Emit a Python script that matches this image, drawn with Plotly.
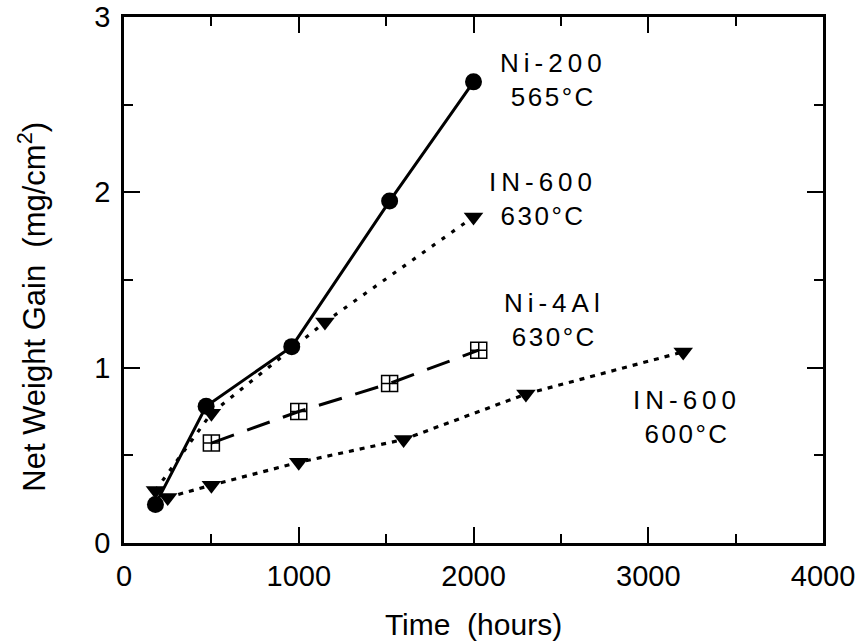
import plotly.graph_objects as go

# ---- data ----
ni200_t = [180, 470, 960, 1520, 2000]
ni200_w = [0.22, 0.78, 1.12, 1.95, 2.63]

in600_630_t = [180, 500, 1150, 2000]
in600_630_w = [0.30, 0.74, 1.26, 1.86]

ni4al_t = [500, 1000, 1520, 2030]
ni4al_w = [0.57, 0.75, 0.91, 1.10]

in600_600_t = [250, 500, 1000, 1600, 2300, 3200]
in600_600_w = [0.26, 0.33, 0.46, 0.59, 0.85, 1.09]

label_text = ["Ni-200<br>565°C", "IN-600<br>630°C", "Ni-4Al<br>630°C", "IN-600<br>600°C"]
label_x = [2458, 2398, 2464, 3224]
label_y = [2.64, 1.96, 1.27, 0.72]

x_ticks = [0, 1000, 2000, 3000, 4000]
y_ticks = [0, 1, 2, 3]

x_title = "Time  (hours)"
y_title = "Net Weight Gain  (mg/cm<sup>2</sup>)"

FONT = "Liberation Sans, Arial, sans-serif"

fig = go.Figure()

fig.add_trace(go.Scatter(
    x=in600_600_t, y=in600_600_w, mode="lines+markers", name="IN-600 600°C",
    line=dict(color="black", width=3.2, dash="5px,6px"),
    marker=dict(symbol="triangle-down", size=17, color="black")))

fig.add_trace(go.Scatter(
    x=in600_630_t, y=in600_630_w, mode="lines+markers", name="IN-600 630°C",
    line=dict(color="black", width=3.2, dash="4px,8px"),
    marker=dict(symbol="triangle-down", size=17, color="black")))

fig.add_trace(go.Scatter(
    x=ni4al_t, y=ni4al_w, mode="lines+markers", name="Ni-4Al 630°C",
    line=dict(color="black", width=3, dash="24px,14px"),
    marker=dict(symbol="square-cross-open", size=16, color="black",
                line=dict(color="black", width=1.5))))

fig.add_trace(go.Scatter(
    x=ni200_t, y=ni200_w, mode="lines+markers", name="Ni-200 565°C",
    line=dict(color="black", width=3),
    marker=dict(symbol="circle", size=17, color="black")))

for t, x, y in zip(label_text, label_x, label_y):
    fig.add_annotation(x=x, y=y, text=t, showarrow=False, xanchor="center", yanchor="middle",
                       font=dict(family=FONT, size=26, color="black"))

# y-axis title (placed as a rotated annotation to match the reference position)
fig.add_annotation(xref="paper", yref="paper", x=-0.131, y=0.45, text=y_title, textangle=-90,
                   showarrow=False, xanchor="center", yanchor="middle",
                   font=dict(family=FONT, size=31, color="black"))

axis_common = dict(
    showgrid=False, zeroline=False, showline=True, linecolor="black", linewidth=2.5,
    mirror="allticks", ticks="inside", ticklen=16, tickwidth=2, tickcolor="black",
    tickfont=dict(family=FONT, size=29, color="black"), automargin=False,
)

fig.update_xaxes(range=[0, 4000], tickvals=x_ticks, ticktext=[str(v) for v in x_ticks],
                 minor=dict(dtick=500, tick0=0, ticks="inside", ticklen=9, tickwidth=2, tickcolor="black"),
                 ticklabelstandoff=5,
                 title=dict(text=x_title, font=dict(family=FONT, size=30, color="black"), standoff=24),
                 **axis_common)
fig.update_yaxes(range=[0, 3], tickvals=y_ticks, ticktext=[str(v) for v in y_ticks],
                 minor=dict(dtick=0.5, tick0=0, ticks="inside", ticklen=9, tickwidth=2, tickcolor="black"),
                 ticklabelstandoff=5,
                 **axis_common)

fig.update_layout(
    width=862, height=644,
    margin=dict(l=124, r=39, t=17, b=101, autoexpand=False),
    paper_bgcolor="white", plot_bgcolor="white",
    showlegend=False,
)

post = """
document.body.style.margin = '0';
document.body.style.padding = '0';
var gd = document.getElementById('{plot_id}');
function spaceLabels(){
  var texts = gd.querySelectorAll('g.annotation text.annotation-text');
  texts.forEach(function(t){
    var lines = t.querySelectorAll('tspan.line');
    if (lines.length >= 2) {
      lines[0].style.letterSpacing = '5px';
      lines[1].style.letterSpacing = '2.5px';
    }
  });
}
spaceLabels();
"""

fig.write_html("out.html", post_script=post, config={"displayModeBar": False})
